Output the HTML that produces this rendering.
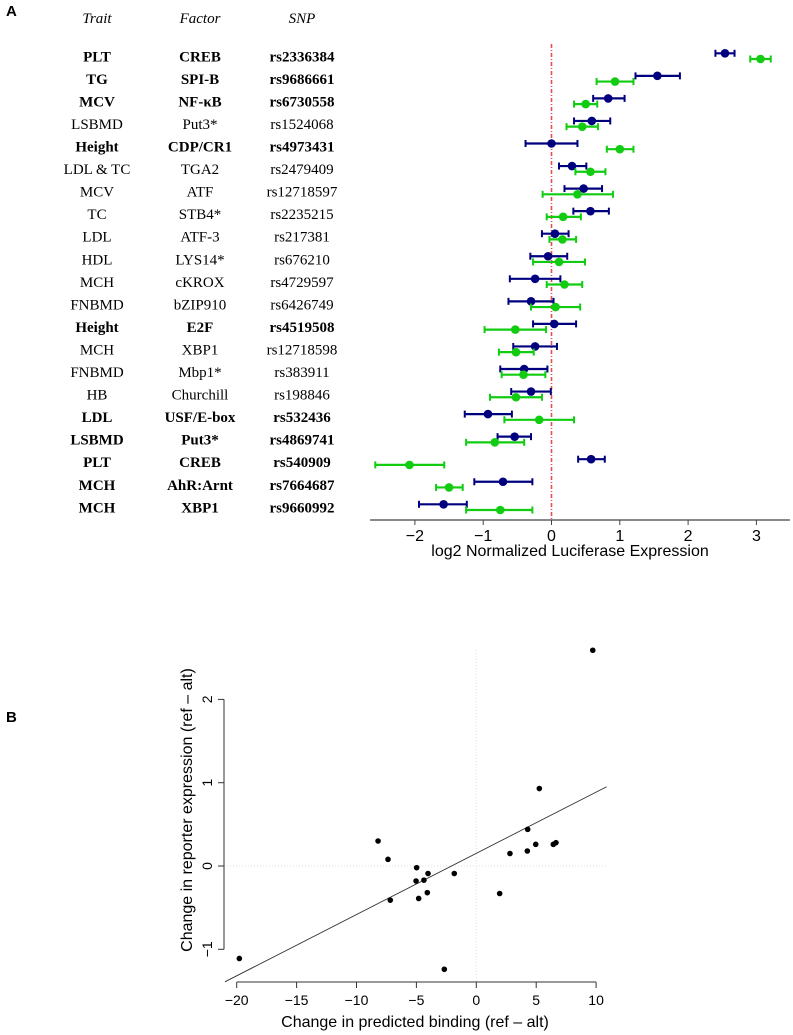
<!DOCTYPE html>
<html><head><meta charset="utf-8">
<style>
html,body{margin:0;padding:0;background:#fff;}
svg{display:block;}
.serif{font-family:"Liberation Serif",serif;}
.sans{font-family:"Liberation Sans",sans-serif;}
</style></head>
<body>
<svg id="fig" width="793" height="1035" viewBox="0 0 793 1035" xmlns="http://www.w3.org/2000/svg">
<text x="6" y="16" class="sans" font-size="15" font-weight="bold">A</text>
<text x="6" y="722" class="sans" font-size="15" font-weight="bold">B</text>
<g id="pa"></g>
<g id="pb"></g>
</svg>
<script>
const NS="http://www.w3.org/2000/svg";
// ---- Panel A data ----
const traits=["PLT","TG","MCV","LSBMD","Height","LDL & TC","MCV","TC","LDL","HDL","MCH","FNBMD","Height","MCH","FNBMD","HB","LDL","LSBMD","PLT","MCH","MCH"];
const factors=["CREB","SPI-B","NF-\u03BAB","Put3*","CDP/CR1","TGA2","ATF","STB4*","ATF-3","LYS14*","cKROX","bZIP910","E2F","XBP1","Mbp1*","Churchill","USF/E-box","Put3*","CREB","AhR:Arnt","XBP1"];
const snps=["rs2336384","rs9686661","rs6730558","rs1524068","rs4973431","rs2479409","rs12718597","rs2235215","rs217381","rs676210","rs4729597","rs6426749","rs4519508","rs12718598","rs383911","rs198846","rs532436","rs4869741","rs540909","rs7664687","rs9660992"];
const boldRows=[1,1,1,0,1,0,0,0,0,0,0,0,1,0,0,0,1,1,1,1,1];
const blueVal=[2.54,1.55,0.83,0.59,0.0,0.30,0.47,0.57,0.05,-0.05,-0.24,-0.30,0.04,-0.24,-0.40,-0.30,-0.93,-0.54,0.58,-0.71,-1.58];
const blueLo=[2.40,1.23,0.61,0.33,-0.38,0.11,0.19,0.32,-0.14,-0.31,-0.61,-0.63,-0.27,-0.56,-0.75,-0.59,-1.27,-0.79,0.39,-1.13,-1.94];
const blueHi=[2.68,1.88,1.07,0.86,0.38,0.51,0.74,0.84,0.25,0.23,0.13,0.03,0.36,0.08,-0.06,-0.01,-0.58,-0.30,0.78,-0.28,-1.24];
const greenVal=[3.06,0.93,0.50,0.45,1.00,0.57,0.38,0.17,0.16,0.11,0.19,0.06,-0.53,-0.52,-0.41,-0.52,-0.18,-0.83,-2.08,-1.50,-0.75];
const greenLo=[2.91,0.66,0.33,0.22,0.81,0.35,-0.13,-0.07,-0.03,-0.27,-0.07,-0.30,-0.98,-0.77,-0.73,-0.90,-0.69,-1.25,-2.58,-1.69,-1.25];
const greenHi=[3.21,1.20,0.67,0.68,1.20,0.79,0.90,0.43,0.36,0.49,0.45,0.42,-0.08,-0.26,-0.09,-0.14,0.33,-0.40,-1.57,-1.30,-0.28];
const xTicksA=[-2,-1,0,1,2,3];
// ---- Panel B data ----
const predBinding=[9.72,5.26,4.29,4.26,4.96,6.43,6.65,2.81,1.95,-1.84,-2.67,-4.03,-4.09,-4.37,-4.98,-5.03,-4.81,-7.18,-7.37,-8.2,-19.78];
const reporterExpr=[2.59,0.93,0.44,0.18,0.26,0.26,0.28,0.15,-0.33,-0.09,-1.24,-0.09,-0.32,-0.17,-0.02,-0.18,-0.39,-0.41,0.08,0.30,-1.11];
const fitCoef=[0.152,0.0735];
const xTicksB=[-20,-15,-10,-5,0,5,10];
const yTicksB=[-1,0,1,2];

function mk(tag,attrs,parent,txt){const e=document.createElementNS(NS,tag);for(const k in attrs)e.setAttribute(k,attrs[k]);if(txt!==undefined)e.textContent=txt;parent.appendChild(e);return e;}

// Panel A
const pa=document.getElementById('pa');
const xA=v=>551.5+v*68.3;
const rowY=i=>53.3+i*22.55;
let h;
h=mk('text',{x:97,y:23,'text-anchor':'middle','font-style':'italic','font-size':15,class:'serif'},pa,'Trait');

h=mk('text',{x:200,y:23,'text-anchor':'middle','font-style':'italic','font-size':15,class:'serif'},pa,'Factor');

h=mk('text',{x:302,y:23,'text-anchor':'middle','font-style':'italic','font-size':15,class:'serif'},pa,'SNP');

const zl=mk('line',{x1:xA(0),x2:xA(0),y1:44,y2:520,stroke:'#e05050','stroke-width':1.6,'stroke-dasharray':'4,2,1,2'},pa);


for(let i=0;i<traits.length;i++){
  const y=rowY(i)+8;const fw=boldRows[i]?'bold':'normal';
  const cols=[[97,traits[i],'trait-label'],[200,factors[i],'factor-label'],[302,snps[i],'snp-label']];
  for(const c of cols){const t=mk('text',{x:c[0],y:y,'text-anchor':'middle','font-size':15,'font-weight':fw,class:'serif'},pa,c[1]);
    
    }
  const ser=[[blueVal,blueLo,blueHi,'#00007f',0,'blue'],[greenVal,greenLo,greenHi,'#11cc11',5.7,'green']];
  for(const s of ser){
    const yy=rowY(i)+s[4];
    const g=mk('g',{},pa);
    
    
    mk('line',{x1:xA(s[1][i]),x2:xA(s[2][i]),y1:yy,y2:yy,stroke:s[3],'stroke-width':2.2},g);
    mk('line',{x1:xA(s[1][i]),x2:xA(s[1][i]),y1:yy-3.5,y2:yy+3.5,stroke:s[3],'stroke-width':2},g);
    mk('line',{x1:xA(s[2][i]),x2:xA(s[2][i]),y1:yy-3.5,y2:yy+3.5,stroke:s[3],'stroke-width':2},g);
    const c=mk('circle',{cx:xA(s[0][i]),cy:yy,r:4.3,fill:s[3]},g);
    
    
  }
}
const axA=mk('line',{x1:370,x2:790,y1:520,y2:520,stroke:'#444','stroke-width':1.2},pa);


for(const t of xTicksA){
  mk('line',{x1:xA(t),x2:xA(t),y1:520,y2:525,stroke:'#444'},pa);
  const tl=mk('text',{x:xA(t),y:541,'text-anchor':'middle','font-size':16,class:'sans'},pa,t<0?'\u2212'+(-t):String(t));
  
  
}
h=mk('text',{x:570,y:556,'text-anchor':'middle','font-size':16,class:'sans'},pa,'log2 Normalized Luciferase Expression');


// Panel B
const pb=document.getElementById('pb');
const xB=v=>476.3+v*11.98;
const yB=v=>866-v*83.3;
mk('line',{x1:224,x2:607,y1:yB(0),y2:yB(0),stroke:'#ddd','stroke-dasharray':'1,2'},pb);
mk('line',{x1:xB(0),x2:xB(0),y1:650,y2:982,stroke:'#ddd','stroke-dasharray':'1,2'},pb);
const axX=mk('line',{x1:xB(-20),x2:xB(10),y1:982,y2:982,stroke:'#333'},pb);


for(const t of xTicksB){
  mk('line',{x1:xB(t),x2:xB(t),y1:982,y2:988,stroke:'#333'},pb);
  const tl=mk('text',{x:xB(t),y:1005,'text-anchor':'middle','font-size':14,class:'sans'},pb,t<0?'\u2212'+(-t):String(t));
  
  
}
const axY=mk('line',{x1:224,x2:224,y1:yB(-1),y2:yB(2),stroke:'#333'},pb);


for(const t of yTicksB){
  mk('line',{x1:218,x2:224,y1:yB(t),y2:yB(t),stroke:'#333'},pb);
  const tl=mk('text',{x:212,y:yB(t),'text-anchor':'middle','font-size':14,class:'sans',transform:`rotate(-90 212 ${yB(t)})`},pb,t<0?'\u2212'+(-t):String(t));
  
  
}
const fx0=-20.98,fx1=10.88;
const fl=mk('line',{x1:xB(fx0),y1:yB(fitCoef[0]+fitCoef[1]*fx0),x2:xB(fx1),y2:yB(fitCoef[0]+fitCoef[1]*fx1),stroke:'#333','stroke-width':0.9},pb);


for(let i=0;i<predBinding.length;i++){
  const c=mk('circle',{cx:xB(predBinding[i]),cy:yB(reporterExpr[i]),r:2.8,fill:'#000'},pb);
  
  
}
h=mk('text',{x:415,y:1027,'text-anchor':'middle','font-size':16,class:'sans'},pb,'Change in predicted binding (ref \u2013 alt)');

h=mk('text',{x:192,y:810,'text-anchor':'middle','font-size':16,class:'sans',transform:'rotate(-90 192 810)'},pb,'Change in reporter expression (ref \u2013 alt)');

</script>
</body></html>
